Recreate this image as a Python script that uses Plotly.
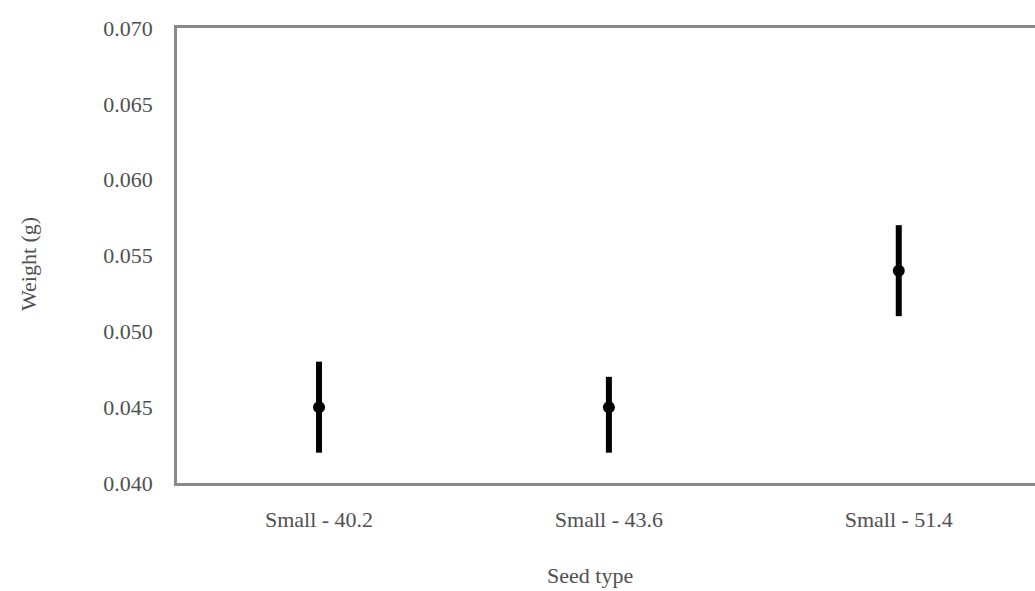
import plotly.graph_objects as go

# Seed weight by seed type: mean with upper/lower bounds (g)
seed_types = ["Small - 40.2", "Small - 43.6", "Small - 51.4"]
mean_weight = [0.045, 0.045, 0.054]
upper_weight = [0.048, 0.047, 0.057]
lower_weight = [0.042, 0.042, 0.051]
y_ticks = [0.040, 0.045, 0.050, 0.055, 0.060, 0.065, 0.070]

err_plus = [u - m for u, m in zip(upper_weight, mean_weight)]
err_minus = [m - l for m, l in zip(mean_weight, lower_weight)]

font_family = "Liberation Serif, Times New Roman, serif"
text_color = "#505050"
axis_color = "#8a8a8a"
tick_size = 22

fig = go.Figure()
fig.add_trace(go.Scatter(
    x=seed_types,
    y=mean_weight,
    mode="markers",
    marker=dict(color="black", size=12),
    error_y=dict(type="data", symmetric=False, array=err_plus,
                 arrayminus=err_minus, color="black", thickness=6, width=0),
    showlegend=False,
))

fig.update_layout(
    width=1035,
    height=591,
    margin=dict(l=177, r=0, t=28, b=108),
    paper_bgcolor="white",
    plot_bgcolor="white",
    font=dict(family=font_family, color=text_color, size=tick_size),
    xaxis=dict(
        type="category",
        range=[-0.49, 2.47],
        showline=True, linecolor=axis_color, linewidth=2.5, mirror=True,
        showgrid=False, zeroline=False, ticks="",
        ticklabelstandoff=15,
        tickfont=dict(size=tick_size, family=font_family, color=text_color),
    ),
    yaxis=dict(
        range=[0.040, 0.070],
        tickvals=y_ticks,
        tickformat=".3f",
        showline=True, linecolor=axis_color, linewidth=2.5,
        showgrid=False, zeroline=False, ticks="",
        ticklabelstandoff=17,
        tickfont=dict(size=tick_size, family=font_family, color=text_color),
    ),
    annotations=[
        # axis titles
        dict(text="Seed type", xref="paper", yref="paper",
             x=(590 - 177) / 858, y=-(575 - 483) / 455,
             xanchor="center", yanchor="middle", showarrow=False,
             font=dict(size=tick_size, family=font_family, color=text_color)),
        dict(text="Weight (g)", xref="paper", yref="paper",
             x=-(177 - 28) / 858, y=(483 - 264) / 455, textangle=-90,
             xanchor="center", yanchor="middle", showarrow=False,
             font=dict(size=tick_size, family=font_family, color=text_color)),
    ],
)

fig.write_html("out.html")
